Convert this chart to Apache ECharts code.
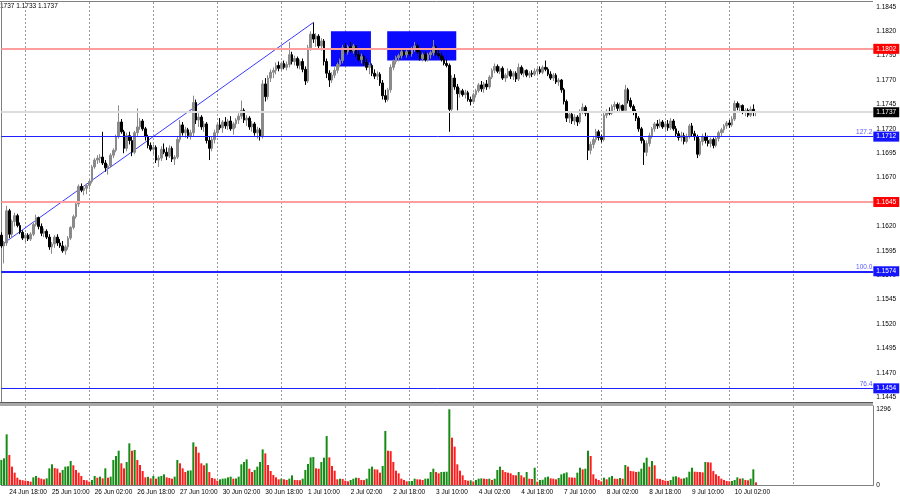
<!DOCTYPE html>
<html><head><meta charset="utf-8">
<script src="https://cdn.jsdelivr.net/npm/echarts@6/dist/echarts.min.js"></script>
<style>html,body{margin:0;padding:0;background:#fff}#c{width:900px;height:500px}</style>
</head><body><div id="c"></div>
<script>
// EURUSD H1 — bar 0 = 24 Jun 15:00, last bar = 10 Jul 10:00
const tickLabels = ['24 Jun 18:00','25 Jun 10:00','26 Jun 02:00','26 Jun 18:00','27 Jun 10:00','30 Jun 02:00','30 Jun 18:00','1 Jul 10:00','2 Jul 02:00','2 Jul 18:00','3 Jul 10:00','4 Jul 02:00','4 Jul 18:00','7 Jul 10:00','8 Jul 02:00','8 Jul 18:00','9 Jul 10:00','10 Jul 02:00'];
const openP = [
1.1611,1.1600,1.1603,1.1636,1.1612,1.1625,1.1631,1.1621,1.1614,1.1608,1.1611,1.1607,1.1612,1.1622,1.1629,1.1620,1.1613,1.1615,1.1609,1.1599,
1.1602,1.1609,1.1603,1.1600,1.1595,1.1599,1.1608,1.1619,1.1630,1.1643,1.1661,1.1657,1.1659,1.1662,1.1666,1.1681,1.1688,1.1690,1.1691,1.1685,
1.1680,1.1682,1.1693,1.1698,1.1712,1.1727,1.1717,1.1700,1.1713,1.1708,1.1696,1.1716,1.1722,1.1728,1.1720,1.1712,1.1703,1.1699,1.1701,1.1688,
1.1690,1.1699,1.1696,1.1692,1.1700,1.1689,1.1691,1.1709,1.1724,1.1716,1.1719,1.1713,1.1716,1.1747,1.1729,1.1732,1.1722,1.1725,1.1708,1.1700,
1.1709,1.1716,1.1724,1.1721,1.1727,1.1723,1.1728,1.1720,1.1725,1.1729,1.1733,1.1739,1.1729,1.1731,1.1722,1.1725,1.1716,1.1719,1.1712,1.1766,
1.1753,1.1772,1.1778,1.1780,1.1785,1.1782,1.1787,1.1783,1.1786,1.1796,1.1789,1.1792,1.1785,1.1789,1.1781,1.1769,1.1803,1.1817,1.1812,1.1815,
1.1805,1.1810,1.1789,1.1777,1.1770,1.1775,1.1780,1.1786,1.1790,1.1803,1.1799,1.1804,1.1800,1.1805,1.1796,1.1791,1.1794,1.1788,1.1783,1.1785,
1.1777,1.1774,1.1776,1.1767,1.1754,1.1750,1.1760,1.1783,1.1789,1.1793,1.1795,1.1799,1.1796,1.1799,1.1797,1.1802,1.1805,1.1799,1.1792,1.1796,
1.1791,1.1796,1.1798,1.1804,1.1797,1.1795,1.1791,1.1787,1.1785,1.1740,1.1772,1.1763,1.1756,1.1759,1.1755,1.1757,1.1750,1.1748,1.1755,1.1759,
1.1765,1.1761,1.1766,1.1763,1.1773,1.1780,1.1784,1.1779,1.1782,1.1772,1.1775,1.1779,1.1774,1.1777,1.1771,1.1783,1.1777,1.1780,1.1775,1.1777,
1.1776,1.1779,1.1781,1.1778,1.1783,1.1781,1.1776,1.1772,1.1775,1.1768,1.1770,1.1760,1.1748,1.1731,1.1735,1.1728,1.1732,1.1727,1.1738,1.1742,
1.1736,1.1698,1.1704,1.1709,1.1717,1.1711,1.1709,1.1734,1.1738,1.1736,1.1743,1.1745,1.1741,1.1744,1.1739,1.1760,1.1749,1.1743,1.1737,1.1731,
1.1720,1.1708,1.1696,1.1705,1.1713,1.1720,1.1725,1.1723,1.1727,1.1722,1.1725,1.1721,1.1728,1.1720,1.1715,1.1711,1.1713,1.1707,1.1712,1.1723,
1.1715,1.1712,1.1694,1.1707,1.1712,1.1708,1.1705,1.1709,1.1703,1.1710,1.1716,1.1719,1.1723,1.1726,1.1724,1.1730,1.1746,1.1742,1.1744,1.1737,
1.1739,1.1734,1.1740,1.1737];
const closeP = [
1.1600,1.1603,1.1636,1.1612,1.1625,1.1631,1.1621,1.1614,1.1608,1.1611,1.1607,1.1612,1.1622,1.1629,1.1620,1.1613,1.1615,1.1609,1.1599,1.1602,
1.1609,1.1603,1.1600,1.1595,1.1599,1.1608,1.1619,1.1630,1.1643,1.1661,1.1657,1.1659,1.1662,1.1666,1.1681,1.1688,1.1690,1.1691,1.1685,1.1680,
1.1682,1.1693,1.1698,1.1712,1.1727,1.1717,1.1700,1.1713,1.1708,1.1696,1.1716,1.1722,1.1728,1.1720,1.1712,1.1703,1.1699,1.1701,1.1688,1.1690,
1.1699,1.1696,1.1692,1.1700,1.1689,1.1691,1.1709,1.1724,1.1716,1.1719,1.1713,1.1716,1.1747,1.1729,1.1732,1.1722,1.1725,1.1708,1.1700,1.1709,
1.1716,1.1724,1.1721,1.1727,1.1723,1.1728,1.1720,1.1725,1.1729,1.1733,1.1739,1.1729,1.1731,1.1722,1.1725,1.1716,1.1719,1.1712,1.1766,1.1753,
1.1772,1.1778,1.1780,1.1785,1.1782,1.1787,1.1783,1.1786,1.1796,1.1789,1.1792,1.1785,1.1789,1.1781,1.1769,1.1803,1.1817,1.1812,1.1815,1.1805,
1.1810,1.1789,1.1777,1.1770,1.1775,1.1780,1.1786,1.1790,1.1803,1.1799,1.1804,1.1800,1.1805,1.1796,1.1791,1.1794,1.1788,1.1783,1.1785,1.1777,
1.1774,1.1776,1.1767,1.1754,1.1750,1.1760,1.1783,1.1789,1.1793,1.1795,1.1799,1.1796,1.1799,1.1797,1.1802,1.1805,1.1799,1.1792,1.1796,1.1791,
1.1796,1.1798,1.1804,1.1797,1.1795,1.1791,1.1787,1.1785,1.1740,1.1772,1.1763,1.1756,1.1759,1.1755,1.1757,1.1750,1.1748,1.1755,1.1759,1.1765,
1.1761,1.1766,1.1763,1.1773,1.1780,1.1784,1.1779,1.1782,1.1772,1.1775,1.1779,1.1774,1.1777,1.1771,1.1783,1.1777,1.1780,1.1775,1.1777,1.1776,
1.1779,1.1781,1.1778,1.1783,1.1781,1.1776,1.1772,1.1775,1.1768,1.1770,1.1760,1.1748,1.1731,1.1735,1.1728,1.1732,1.1727,1.1738,1.1742,1.1736,
1.1698,1.1704,1.1709,1.1717,1.1711,1.1709,1.1734,1.1738,1.1736,1.1743,1.1745,1.1741,1.1744,1.1739,1.1760,1.1749,1.1743,1.1737,1.1731,1.1720,
1.1708,1.1696,1.1705,1.1713,1.1720,1.1725,1.1723,1.1727,1.1722,1.1725,1.1721,1.1728,1.1720,1.1715,1.1711,1.1713,1.1707,1.1712,1.1723,1.1715,
1.1712,1.1694,1.1707,1.1712,1.1708,1.1705,1.1709,1.1703,1.1710,1.1716,1.1719,1.1723,1.1726,1.1724,1.1730,1.1746,1.1742,1.1744,1.1737,1.1739,
1.1734,1.1740,1.1737,1.1737];
const highP = [
1.1614,1.1605,1.1641,1.1638,1.1627,1.1634,1.1633,1.1624,1.1616,1.1613,1.1613,1.1614,1.1624,1.1632,1.1630,1.1623,1.1618,1.1617,1.1612,1.1604,
1.1611,1.1612,1.1607,1.1605,1.1601,1.1610,1.1620,1.1632,1.1645,1.1663,1.1664,1.1661,1.1664,1.1668,1.1683,1.1690,1.1693,1.1694,1.1717,1.1688,
1.1684,1.1695,1.1700,1.1714,1.1744,1.1730,1.1719,1.1716,1.1717,1.1712,1.1718,1.1741,1.1731,1.1730,1.1722,1.1714,1.1706,1.1704,1.1703,1.1693,
1.1702,1.1705,1.1701,1.1703,1.1702,1.1693,1.1712,1.1729,1.1727,1.1722,1.1721,1.1719,1.1754,1.1750,1.1736,1.1734,1.1728,1.1727,1.1712,1.1712,
1.1719,1.1726,1.1731,1.1729,1.1732,1.1730,1.1733,1.1727,1.1731,1.1736,1.1749,1.1741,1.1734,1.1733,1.1728,1.1727,1.1722,1.1721,1.1770,1.1772,
1.1775,1.1781,1.1783,1.1788,1.1789,1.1789,1.1790,1.1789,1.1809,1.1799,1.1795,1.1794,1.1791,1.1792,1.1784,1.1806,1.1820,1.1829,1.1818,1.1817,
1.1813,1.1812,1.1792,1.1780,1.1778,1.1783,1.1788,1.1792,1.1806,1.1808,1.1806,1.1809,1.1807,1.1806,1.1800,1.1797,1.1796,1.1792,1.1788,1.1787,
1.1781,1.1779,1.1778,1.1770,1.1760,1.1762,1.1786,1.1791,1.1795,1.1797,1.1801,1.1802,1.1801,1.1802,1.1804,1.1809,1.1807,1.1801,1.1798,1.1799,
1.1798,1.1800,1.1811,1.1806,1.1801,1.1798,1.1794,1.1791,1.1787,1.1775,1.1776,1.1766,1.1762,1.1761,1.1760,1.1759,1.1753,1.1757,1.1761,1.1767,
1.1769,1.1768,1.1770,1.1775,1.1782,1.1787,1.1786,1.1784,1.1784,1.1777,1.1782,1.1781,1.1779,1.1779,1.1787,1.1785,1.1782,1.1781,1.1779,1.1780,
1.1782,1.1783,1.1784,1.1785,1.1790,1.1783,1.1779,1.1777,1.1777,1.1772,1.1771,1.1762,1.1750,1.1738,1.1737,1.1735,1.1734,1.1740,1.1746,1.1744,
1.1738,1.1707,1.1712,1.1720,1.1719,1.1714,1.1737,1.1740,1.1742,1.1745,1.1748,1.1747,1.1747,1.1745,1.1765,1.1762,1.1752,1.1745,1.1740,1.1733,
1.1722,1.1710,1.1708,1.1716,1.1722,1.1727,1.1729,1.1730,1.1729,1.1728,1.1729,1.1731,1.1730,1.1723,1.1718,1.1717,1.1716,1.1715,1.1725,1.1726,
1.1718,1.1714,1.1710,1.1715,1.1716,1.1713,1.1711,1.1711,1.1712,1.1718,1.1721,1.1725,1.1728,1.1729,1.1733,1.1749,1.1748,1.1746,1.1745,1.1741,
1.1741,1.1743,1.1745,1.1737];
const lowP = [
1.1598,1.1582,1.1600,1.1608,1.1608,1.1620,1.1619,1.1612,1.1606,1.1604,1.1605,1.1605,1.1610,1.1620,1.1617,1.1610,1.1609,1.1607,1.1596,1.1592,
1.1598,1.1600,1.1598,1.1593,1.1591,1.1596,1.1606,1.1617,1.1628,1.1640,1.1655,1.1652,1.1653,1.1658,1.1664,1.1679,1.1684,1.1685,1.1683,1.1676,
1.1673,1.1680,1.1690,1.1696,1.1710,1.1715,1.1695,1.1697,1.1704,1.1692,1.1694,1.1712,1.1719,1.1718,1.1708,1.1700,1.1697,1.1694,1.1685,1.1681,
1.1687,1.1694,1.1688,1.1690,1.1686,1.1683,1.1689,1.1706,1.1713,1.1711,1.1710,1.1709,1.1712,1.1725,1.1722,1.1719,1.1717,1.1705,1.1688,1.1697,
1.1705,1.1713,1.1719,1.1716,1.1720,1.1719,1.1718,1.1714,1.1721,1.1725,1.1730,1.1726,1.1723,1.1719,1.1717,1.1713,1.1710,1.1708,1.1710,1.1748,
1.1750,1.1768,1.1772,1.1776,1.1779,1.1780,1.1781,1.1780,1.1783,1.1786,1.1785,1.1782,1.1781,1.1778,1.1765,1.1767,1.1800,1.1808,1.1804,1.1802,
1.1800,1.1785,1.1772,1.1763,1.1767,1.1772,1.1777,1.1783,1.1787,1.1797,1.1796,1.1798,1.1797,1.1794,1.1789,1.1787,1.1785,1.1780,1.1776,1.1774,
1.1771,1.1770,1.1764,1.1750,1.1747,1.1748,1.1757,1.1780,1.1786,1.1789,1.1792,1.1794,1.1793,1.1795,1.1794,1.1799,1.1797,1.1790,1.1789,1.1789,
1.1789,1.1792,1.1795,1.1795,1.1793,1.1789,1.1785,1.1783,1.1717,1.1737,1.1760,1.1739,1.1752,1.1753,1.1751,1.1748,1.1744,1.1746,1.1752,1.1757,
1.1758,1.1757,1.1760,1.1761,1.1771,1.1777,1.1777,1.1776,1.1770,1.1768,1.1772,1.1771,1.1770,1.1768,1.1769,1.1775,1.1773,1.1773,1.1772,1.1773,
1.1774,1.1775,1.1776,1.1776,1.1779,1.1774,1.1770,1.1769,1.1766,1.1764,1.1757,1.1745,1.1727,1.1726,1.1725,1.1724,1.1723,1.1725,1.1735,1.1733,
1.1688,1.1694,1.1700,1.1706,1.1708,1.1706,1.1707,1.1731,1.1734,1.1734,1.1739,1.1738,1.1738,1.1737,1.1737,1.1746,1.1741,1.1734,1.1728,1.1717,
1.1705,1.1683,1.1692,1.1702,1.1710,1.1717,1.1720,1.1721,1.1720,1.1719,1.1718,1.1719,1.1718,1.1712,1.1708,1.1707,1.1704,1.1705,1.1710,1.1712,
1.1708,1.1690,1.1692,1.1703,1.1705,1.1702,1.1701,1.1700,1.1701,1.1707,1.1712,1.1716,1.1720,1.1721,1.1722,1.1728,1.1739,1.1738,1.1735,1.1733,
1.1732,1.1732,1.1733,1.1733];
const volume = [
428,456,867,513,314,211,125,90,82,74,68,57,131,154,125,108,97,114,285,354,
290,280,211,257,314,320,411,337,257,211,154,86,80,57,86,154,125,143,114,285,
125,143,428,496,587,371,285,394,713,587,600,428,342,240,131,140,114,154,108,143,
154,183,131,120,108,143,428,371,285,222,245,250,730,656,553,371,337,371,222,120,
108,74,97,108,112,131,143,108,112,143,354,394,439,279,222,257,314,394,610,542,
342,240,171,131,97,108,97,86,108,165,86,84,82,108,257,359,473,479,285,279,
394,468,838,473,325,245,97,108,104,74,63,86,108,125,120,86,84,108,279,314,
268,265,211,325,924,587,580,394,245,200,108,86,63,66,68,108,97,95,86,108,
110,222,279,222,200,222,225,228,1296,810,656,354,245,165,86,74,80,60,86,108,
114,108,102,108,86,108,257,314,257,222,211,200,171,165,222,165,131,222,108,103,
296,57,86,90,131,143,114,108,97,120,183,200,216,131,128,125,211,296,268,279,
587,496,183,108,86,63,125,97,131,154,108,105,120,108,342,314,240,235,222,228,
279,382,468,314,411,337,108,104,86,74,70,86,143,150,131,108,114,131,228,296,
228,225,222,216,394,390,385,240,183,154,108,86,68,63,68,86,131,108,114,86,
80,108,268,45];
// horizontal levels
const redLevels = [1.1802, 1.1645];
const fibLevels = [1.1712, 1.1574, 1.1454];
const fibTexts = ['127.2', '100.0', '76.4'];
const lastPrice = 1.1737;
// trend line anchors [bar, price] and zones [bar1, price1, bar2, price2]
const trendLine = [[0, 1.1601], [117, 1.1829]];
const zones = [[123.6, 1.1820, 138.6, 1.1784], [144.7, 1.1820, 170.6, 1.1790]];

const N = 328;
const cats = Array.from({length: N}, (_, i) => i);
const FONT = 'Liberation Sans';
const GREEN = '#168c16', RED = '#ff1c1c';
const dayLine = i => i >= 9 && i <= 297 && (i - 9) % 24 === 0;
const labelIdx = i => i >= 3 && i <= 275 && (i - 3) % 16 === 0;
const splitStyle = {show: true, interval: dayLine, lineStyle: {color: '#9a9a9a', type: [2, 2], width: 1}};

const candles = openP.map((o, i) => [o, closeP[i], lowP[i], highP[i]]);

const boxLabel = (txt, bg) => ({show: true, position: 'end', distance: 0, formatter: txt, backgroundColor: bg, color: '#fff', padding: [2, 3, 1, 3], fontSize: 6.5, fontFamily: FONT});
const mk = [];
mk.push({yAxis: lastPrice, lineStyle: {color: '#dcdcdc', width: 2, type: 'solid'}, label: boxLabel(lastPrice.toFixed(4), '#000')});
redLevels.forEach(v => mk.push({yAxis: v, lineStyle: {color: '#ff9e9e', width: 2, type: 'solid'}, label: boxLabel(v.toFixed(4), '#ff0000')}));
fibLevels.forEach((v, k) => {
  mk.push({yAxis: v, lineStyle: {color: '#2020ff', width: k === 1 ? 2 : 1, type: 'solid'}, label: boxLabel(v.toFixed(4), '#1414ff')});
  mk.push({yAxis: v, lineStyle: {color: 'rgba(0,0,0,0)', width: 1},
    label: {show: true, position: 'insideEndTop', distance: 1, formatter: fibTexts[k], color: '#5a5aff', fontSize: 6.5, fontFamily: FONT}});
});

const chart = echarts.init(document.getElementById('c'), null, {renderer: 'canvas'});
chart.setOption({
  animation: false,
  backgroundColor: '#fff',
  grid: [
    {left: 1.33, top: 2, width: 872, height: 400},
    {left: 1.33, top: 406, width: 872, height: 79}
  ],
  xAxis: [
    {type: 'category', gridIndex: 0, data: cats, boundaryGap: false, axisLine: {show: false}, axisTick: {show: false}, axisLabel: {show: false}, splitLine: splitStyle},
    {type: 'category', gridIndex: 1, data: cats, boundaryGap: false,
      axisLine: {show: true, lineStyle: {color: '#808080'}}, axisTick: {show: false},
      axisLabel: {show: true, interval: (i) => labelIdx(i), align: 'left', margin: 4, fontSize: 6.5, fontFamily: FONT, color: '#000',
        formatter: (v) => tickLabels[(Number(v) - 3) / 16] || ''},
      splitLine: splitStyle},
    {type: 'value', gridIndex: 0, min: 0, max: N - 1, show: false}
  ],
  yAxis: [
    {type: 'value', gridIndex: 0, position: 'right', min: 1.1440, max: 1.1850, interval: 0.0005,
      axisLine: {show: true, lineStyle: {color: '#808080'}}, axisTick: {show: false}, splitLine: {show: false},
      axisLabel: {margin: 3, fontSize: 6.5, fontFamily: FONT, color: '#000',
        formatter: v => { const k = Math.round((v - 1.1445) / 0.0025 * 1000) / 1000; return Number.isInteger(k) ? v.toFixed(4) : ''; }}},
    {type: 'value', gridIndex: 1, position: 'right', min: 0, max: 1352, interval: 1296,
      axisLine: {show: true, lineStyle: {color: '#808080'}}, axisTick: {show: false}, splitLine: {show: false},
      axisLabel: {margin: 3, fontSize: 6.5, fontFamily: FONT, color: '#000', formatter: v => (v === 0 || v === 1296) ? String(v) : ''}}
  ],
  series: [
    {type: 'line', xAxisIndex: 2, yAxisIndex: 0, z: 1, data: trendLine, symbol: 'none', silent: true,
      lineStyle: {color: '#3a3aff', width: 1},
      markArea: {silent: true, itemStyle: {color: '#0a0aff'},
        data: zones.map(r => [{coord: [r[0], r[1]]}, {coord: [r[2], r[3]]}])}},
    {type: 'candlestick', xAxisIndex: 0, yAxisIndex: 0, z: 3, data: candles, barWidth: 2,
      itemStyle: {color: '#8a8a8a', color0: '#000', borderColor: '#8a8a8a', borderColor0: '#000', borderWidth: 1},
      markLine: {symbol: ['none', 'none'], silent: true, animation: false, precision: 4, data: mk}},
    {type: 'bar', xAxisIndex: 1, yAxisIndex: 1, data: volume, barWidth: 2, silent: true,
      itemStyle: {color: p => (p.dataIndex === 0 || volume[p.dataIndex] > volume[p.dataIndex - 1]) ? GREEN : RED}}
  ],
  graphic: [
    {type: 'line', shape: {x1: 0, y1: 1.5, x2: 873, y2: 1.5}, style: {stroke: '#808080', lineWidth: 1}},
    {type: 'rect', shape: {x: 0, y: 402, width: 873, height: 4}, style: {fill: '#a8a8a8'}},
    {type: 'line', shape: {x1: 0, y1: 402.5, x2: 873, y2: 402.5}, style: {stroke: '#5a5a5a', lineWidth: 1}},
    {type: 'text', left: 0, top: 3, style: {text: '1737 1.1733 1.1737', font: '6.5px "Liberation Sans"', fill: '#000'}}
  ]
});
</script></body></html>
